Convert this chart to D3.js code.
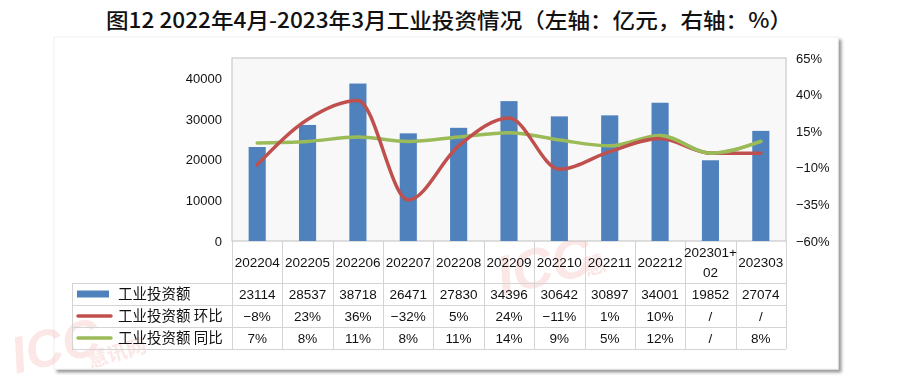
<!DOCTYPE html>
<html>
<head>
<meta charset="utf-8">
<script src="https://cdn.jsdelivr.net/npm/d3@7"></script>
<style>
  body { margin: 0; background: #fff; }
  svg text { font-family: "Liberation Sans", "Noto Sans CJK SC", sans-serif; }
</style>
</head>
<body>
<div id="chart"></div>
<script>
// data
const categories = ['202204', '202205', '202206', '202207', '202208', '202209',
  '202210', '202211', '202212', '202301+02', '202303'];
const investValues = [23114, 28537, 38718, 26471, 27830, 34396, 30642, 30897, 34001, 19852, 27074];
// null = shown as "/" in table (Excel plots it as 0)
const momValues = [-8, 23, 36, -32, 5, 24, -11, 1, 10, null, null];
const yoyValues = [7, 8, 11, 8, 11, 14, 9, 5, 12, null, 8];
const leftTicks = [0, 10000, 20000, 30000, 40000];
const rightTicks = [-60, -35, -10, 15, 40, 65];
const seriesNames = ['工业投资额', '工业投资额 环比', '工业投资额 同比'];
const title = '图12 2022年4月-2023年3月工业投资情况（左轴：亿元，右轴：%）';

const width = 900;
const height = 387;
const plot = { left: 232, right: 786, top: 58, bottom: 241 };
const table = { left: 72, headBottom: 283, rowH: 22 };

const colors = { bar: '#4F81BD', mom: '#C0504D', yoy: '#9BBB59' };
const gridColor = '#D4D4D4';

const fmtPct = v => v == null ? '/' : (v < 0 ? '−' : '') + Math.abs(v) + '%';

const svg = d3.select('#chart').append('svg')
    .attr('width', width)
    .attr('height', height);

// shadow filter for card
const defs = svg.append('defs');
const f = defs.append('filter').attr('id', 'shadow')
    .attr('x', '-5%').attr('y', '-5%').attr('width', '110%').attr('height', '115%');
f.append('feDropShadow')
    .attr('dx', 3).attr('dy', 3).attr('stdDeviation', 1.6)
    .attr('flood-color', '#000').attr('flood-opacity', 0.4);

// title
svg.append('text')
    .attr('x', 449)
    .attr('y', 28)
    .attr('text-anchor', 'middle')
    .attr('font-size', 21)
    .attr('font-weight', 500)
    .attr('fill', '#111')
    .attr('textLength', 686)
    .attr('lengthAdjust', 'spacingAndGlyphs')
    .style('font-family', '"Noto Sans CJK SC", sans-serif')
    .text(title);

// card
svg.append('rect')
    .attr('x', 54).attr('y', 37)
    .attr('width', 784).attr('height', 332)
    .attr('fill', '#fff')
    .attr('stroke', '#f0f0f0')
    .attr('filter', 'url(#shadow)');

// watermarks
const wm = svg.append('g').attr('fill', '#E8464B').attr('opacity', 0.13)
    .style('font-family', '"DejaVu Sans", sans-serif');
wm.append('text')
    .attr('transform', 'translate(16,374) rotate(-14)')
    .attr('font-size', 52).attr('font-weight', 'bold').attr('font-style', 'italic')
    .text('ICC');
wm.append('text')
    .attr('transform', 'translate(90,368) rotate(-16)')
    .attr('font-size', 20).attr('font-weight', 'bold')
    .style('font-family', '"Noto Sans CJK SC", sans-serif')
    .text('慧讯网');
wm.append('text')
    .attr('transform', 'translate(502,296) rotate(-14)')
    .attr('font-size', 56).attr('font-weight', 'bold').attr('font-style', 'italic')
    .text('ICC');
wm.append('text')
    .attr('transform', 'translate(586,276) rotate(-16)')
    .attr('font-size', 22).attr('font-weight', 'bold')
    .style('font-family', '"Noto Sans CJK SC", sans-serif')
    .text('慧');

// scales
const x = d3.scaleBand()
    .domain(categories)
    .range([plot.left, plot.right])
    .paddingInner(0.66)
    .paddingOuter(0.33);
const xCell = d3.scaleBand()
    .domain(categories)
    .range([plot.left, plot.right]);
const yL = d3.scaleLinear().domain([0, 45000]).range([plot.bottom, plot.top]);
const yR = d3.scaleLinear().domain([-60, 65]).range([plot.bottom, plot.top]);

// plot background
svg.append('rect')
    .attr('x', plot.left).attr('y', plot.top)
    .attr('width', plot.right - plot.left)
    .attr('height', plot.bottom - plot.top)
    .attr('fill', '#F8F8F8')
    .attr('stroke', '#BFBFBF')
    .attr('stroke-width', 1);

// axes
const leftAxis = svg.append('g')
    .attr('transform', 'translate(' + plot.left + ',0)')
    .call(d3.axisLeft(yL).tickValues(leftTicks).tickSize(0).tickPadding(10)
        .tickFormat(d => String(d)));
leftAxis.select('.domain').remove();

const rightAxis = svg.append('g')
    .attr('transform', 'translate(' + plot.right + ',0)')
    .call(d3.axisRight(yR).tickValues(rightTicks).tickSize(0).tickPadding(10)
        .tickFormat(d => fmtPct(d)));
rightAxis.select('.domain').remove();

svg.selectAll('.tick text')
    .attr('font-size', 13)
    .attr('fill', '#111')
    .style('font-family', '"Liberation Sans", sans-serif');

// bars
svg.append('g').selectAll('rect')
    .data(investValues)
    .enter().append('rect')
    .attr('x', (d, i) => x(categories[i]))
    .attr('y', d => yL(d))
    .attr('width', x.bandwidth())
    .attr('height', d => plot.bottom - yL(d))
    .attr('fill', colors.bar);

// lines
const cx = i => x(categories[i]) + x.bandwidth() / 2;
const line = d3.line()
    .x((d, i) => cx(i))
    .y(d => yR(d == null ? 0 : d))
    .curve(d3.curveMonotoneX);

svg.append('path')
    .datum(yoyValues)
    .attr('d', line)
    .attr('fill', 'none')
    .attr('stroke', colors.yoy)
    .attr('stroke-width', 3.5)
    .attr('stroke-linecap', 'round');

svg.append('path')
    .datum(momValues)
    .attr('d', line)
    .attr('fill', 'none')
    .attr('stroke', colors.mom)
    .attr('stroke-width', 3.5)
    .attr('stroke-linecap', 'round');

// yoy drawn over red again on the tail where they overlap
defs.append('clipPath').attr('id', 'tailClip')
    .append('rect')
    .attr('x', xCell(categories[8]) + xCell.bandwidth() / 2)
    .attr('y', plot.top)
    .attr('width', plot.right)
    .attr('height', plot.bottom - plot.top);
svg.append('path')
    .datum(yoyValues)
    .attr('d', line)
    .attr('fill', 'none')
    .attr('stroke', colors.yoy)
    .attr('stroke-width', 3.5)
    .attr('stroke-linecap', 'round')
    .attr('clip-path', 'url(#tailClip)');

// data table
const tableBottom = table.headBottom + table.rowH * 3;
const grid = svg.append('g')
    .attr('stroke', gridColor)
    .attr('stroke-width', 1)
    .attr('shape-rendering', 'crispEdges');

// vertical lines
const edges = categories.map(c => xCell(c)).concat([plot.right]);
grid.selectAll('.v')
    .data(edges)
    .enter().append('line')
    .attr('x1', d => Math.round(d) + 0.5)
    .attr('x2', d => Math.round(d) + 0.5)
    .attr('y1', plot.bottom)
    .attr('y2', tableBottom);
grid.append('line')
    .attr('x1', table.left + 0.5).attr('x2', table.left + 0.5)
    .attr('y1', table.headBottom).attr('y2', tableBottom);

// horizontal lines
grid.selectAll('.h')
    .data([0, 1, 2, 3])
    .enter().append('line')
    .attr('x1', table.left)
    .attr('x2', plot.right)
    .attr('y1', d => table.headBottom + d * table.rowH + 0.5)
    .attr('y2', d => table.headBottom + d * table.rowH + 0.5);

// category header
const head = svg.append('g')
    .attr('font-size', 13.5)
    .attr('fill', '#111')
    .attr('text-anchor', 'middle');
categories.forEach((c, i) => {
    const t = head.append('text')
        .attr('x', xCell(c) + xCell.bandwidth() / 2);
    if (c.indexOf('+') >= 0) {
        const parts = c.split('+');
        t.append('tspan').attr('x', xCell(c) + xCell.bandwidth() / 2)
            .attr('y', 257).text(parts[0] + '+');
        t.append('tspan').attr('x', xCell(c) + xCell.bandwidth() / 2)
            .attr('y', 277).text(parts[1]);
    } else {
        t.attr('y', 267).text(c);
    }
});

// rows
const rows = [
    investValues.map(v => String(v)),
    momValues.map(fmtPct),
    yoyValues.map(fmtPct)
];
const rowColors = [colors.bar, colors.mom, colors.yoy];

rows.forEach((vals, r) => {
    const midY = table.headBottom + r * table.rowH + table.rowH / 2;
    const g = svg.append('g');

    // legend key
    if (r === 0) {
        g.append('rect')
            .attr('x', 77).attr('y', midY - 3.5)
            .attr('width', 32).attr('height', 7)
            .attr('fill', rowColors[r]);
    } else {
        g.append('line')
            .attr('x1', 78).attr('x2', 111)
            .attr('y1', midY).attr('y2', midY)
            .attr('stroke', rowColors[r])
            .attr('stroke-width', 3.5)
            .attr('stroke-linecap', 'round');
    }
    g.append('text')
        .attr('x', 118)
        .attr('y', midY + 5)
        .attr('font-size', 14.5)
        .attr('fill', '#111')
        .style('font-family', '"Noto Sans CJK SC", sans-serif')
        .text(seriesNames[r]);

    g.selectAll('.val')
        .data(vals)
        .enter().append('text')
        .attr('x', (d, i) => xCell(categories[i]) + xCell.bandwidth() / 2)
        .attr('y', midY + 5)
        .attr('text-anchor', 'middle')
        .attr('font-size', 13.5)
        .attr('fill', '#111')
        .text(d => d);
});
</script>
</body>
</html>
